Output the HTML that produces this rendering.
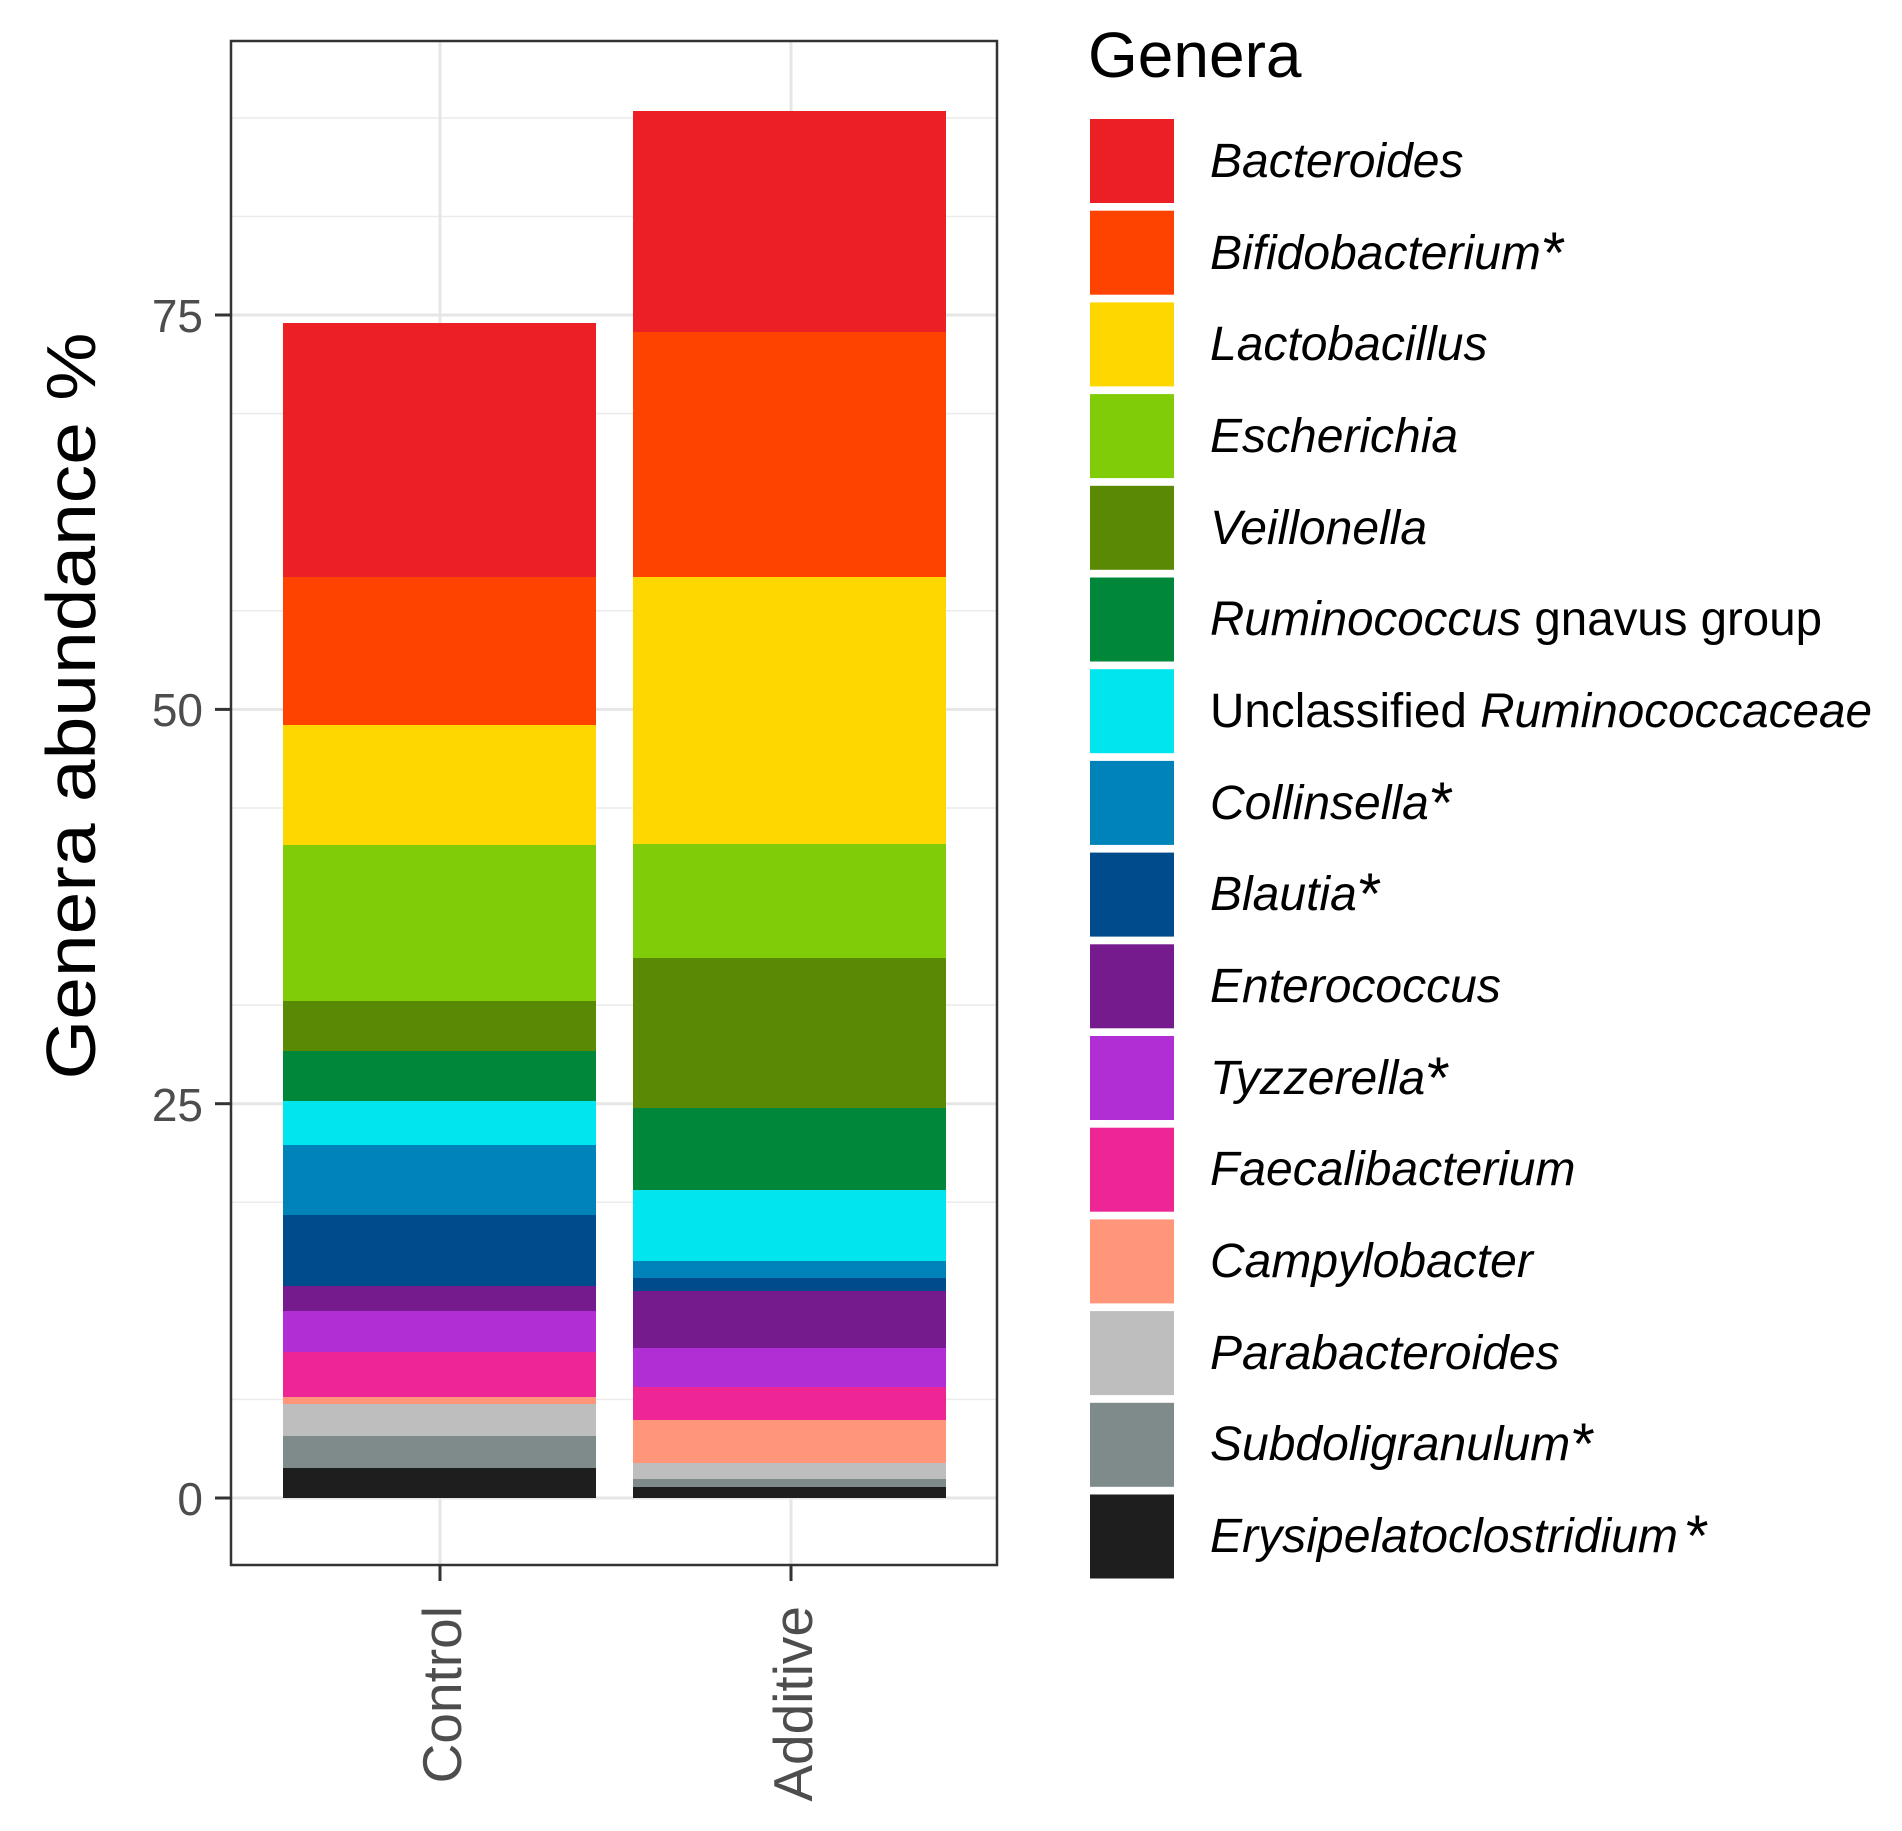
<!DOCTYPE html>
<html><head><meta charset="utf-8"><style>html,body{margin:0;padding:0;background:#fff}svg{display:block}</style></head>
<body>
<svg width="1902" height="1831" viewBox="0 0 1902 1831" xmlns="http://www.w3.org/2000/svg" font-family="Liberation Sans, Arial, sans-serif">
<rect width="1902" height="1831" fill="#fff"/>
<g stroke="#ebebeb" stroke-width="1.5">
<line x1="231" x2="997" y1="1399.4" y2="1399.4"/><line x1="231" x2="997" y1="1202.3" y2="1202.3"/><line x1="231" x2="997" y1="1005.1" y2="1005.1"/><line x1="231" x2="997" y1="808" y2="808"/><line x1="231" x2="997" y1="610.8" y2="610.8"/><line x1="231" x2="997" y1="413.6" y2="413.6"/><line x1="231" x2="997" y1="216.5" y2="216.5"/><line x1="231" x2="997" y1="118" y2="118"/>
</g>
<g stroke="#e6e6e6" stroke-width="3">
<line x1="231" x2="997" y1="1498" y2="1498"/><line x1="231" x2="997" y1="1103.7" y2="1103.7"/><line x1="231" x2="997" y1="709.4" y2="709.4"/><line x1="231" x2="997" y1="315" y2="315"/>
<line x1="440" x2="440" y1="41" y2="1565"/><line x1="791" x2="791" y1="41" y2="1565"/>
</g>
<g>
<rect x="283" y="323" width="313" height="254" fill="#EC2024"/>
<rect x="283" y="577" width="313" height="148" fill="#FE4200"/>
<rect x="283" y="725" width="313" height="120" fill="#FFD700"/>
<rect x="283" y="845" width="313" height="156" fill="#80CC08"/>
<rect x="283" y="1001" width="313" height="50" fill="#5A8A04"/>
<rect x="283" y="1051" width="313" height="50" fill="#00873A"/>
<rect x="283" y="1101" width="313" height="44" fill="#00E5EE"/>
<rect x="283" y="1145" width="313" height="70" fill="#0083B8"/>
<rect x="283" y="1215" width="313" height="71" fill="#004B8B"/>
<rect x="283" y="1286" width="313" height="25" fill="#751B8D"/>
<rect x="283" y="1311" width="313" height="41" fill="#B02ED4"/>
<rect x="283" y="1352" width="313" height="45" fill="#EE2595"/>
<rect x="283" y="1397" width="313" height="7" fill="#FF967A"/>
<rect x="283" y="1404" width="313" height="32" fill="#BEBEBE"/>
<rect x="283" y="1436" width="313" height="32" fill="#7F8A8A"/>
<rect x="283" y="1468" width="313" height="30" fill="#1E1E1E"/>
</g>
<g>
<rect x="633" y="111" width="313" height="221" fill="#EC2024"/>
<rect x="633" y="332" width="313" height="245" fill="#FE4200"/>
<rect x="633" y="577" width="313" height="267" fill="#FFD700"/>
<rect x="633" y="844" width="313" height="114" fill="#80CC08"/>
<rect x="633" y="958" width="313" height="150" fill="#5A8A04"/>
<rect x="633" y="1108" width="313" height="82" fill="#00873A"/>
<rect x="633" y="1190" width="313" height="71" fill="#00E5EE"/>
<rect x="633" y="1261" width="313" height="17" fill="#0083B8"/>
<rect x="633" y="1278" width="313" height="13" fill="#004B8B"/>
<rect x="633" y="1291" width="313" height="57" fill="#751B8D"/>
<rect x="633" y="1348" width="313" height="39" fill="#B02ED4"/>
<rect x="633" y="1387" width="313" height="33" fill="#EE2595"/>
<rect x="633" y="1420" width="313" height="43" fill="#FF967A"/>
<rect x="633" y="1463" width="313" height="16" fill="#BEBEBE"/>
<rect x="633" y="1479" width="313" height="8" fill="#7F8A8A"/>
<rect x="633" y="1487" width="313" height="11" fill="#1E1E1E"/>
</g>
<rect x="231" y="41" width="766" height="1524" fill="none" stroke="#333" stroke-width="2.5"/>
<g stroke="#333" stroke-width="3">
<line x1="215" x2="231" y1="1498" y2="1498"/><line x1="215" x2="231" y1="1103.7" y2="1103.7"/><line x1="215" x2="231" y1="709.4" y2="709.4"/><line x1="215" x2="231" y1="315" y2="315"/>
<line x1="440" x2="440" y1="1565" y2="1581"/><line x1="791" x2="791" y1="1565" y2="1581"/>
</g>
<g fill="#4d4d4d" font-size="46" text-anchor="end">
<text x="203" y="1515">0</text><text x="203" y="1121">25</text><text x="203" y="726">50</text><text x="203" y="332">75</text>
</g>
<g fill="#4d4d4d" font-size="55" text-anchor="end">
<text transform="translate(461,1606) rotate(-90)">Control</text>
<text transform="translate(812,1606) rotate(-90)">Additive</text>
</g>
<text transform="translate(95,706) rotate(-90)" font-size="70" text-anchor="middle" fill="#000" textLength="747" lengthAdjust="spacingAndGlyphs">Genera abundance %</text>
<text x="1088" y="77" font-size="64" fill="#000">Genera</text>
<g>
<rect x="1090" y="119" width="84" height="84" fill="#EC2024"/>
<rect x="1090" y="210.7" width="84" height="84" fill="#FE4200"/>
<rect x="1090" y="302.4" width="84" height="84" fill="#FFD700"/>
<rect x="1090" y="394.1" width="84" height="84" fill="#80CC08"/>
<rect x="1090" y="485.8" width="84" height="84" fill="#5A8A04"/>
<rect x="1090" y="577.5" width="84" height="84" fill="#00873A"/>
<rect x="1090" y="669.2" width="84" height="84" fill="#00E5EE"/>
<rect x="1090" y="760.9" width="84" height="84" fill="#0083B8"/>
<rect x="1090" y="852.6" width="84" height="84" fill="#004B8B"/>
<rect x="1090" y="944.3" width="84" height="84" fill="#751B8D"/>
<rect x="1090" y="1036" width="84" height="84" fill="#B02ED4"/>
<rect x="1090" y="1127.7" width="84" height="84" fill="#EE2595"/>
<rect x="1090" y="1219.4" width="84" height="84" fill="#FF967A"/>
<rect x="1090" y="1311.1" width="84" height="84" fill="#BEBEBE"/>
<rect x="1090" y="1402.8" width="84" height="84" fill="#7F8A8A"/>
<rect x="1090" y="1494.5" width="84" height="84" fill="#1E1E1E"/>
</g>
<g font-size="48" fill="#000">
<text x="1210" y="177" font-style="italic">Bacteroides</text>
<text x="1210" y="269"><tspan font-style="italic">Bifidobacterium</tspan><tspan font-size="58" dx="2" dy="4">*</tspan></text>
<text x="1210" y="360" font-style="italic">Lactobacillus</text>
<text x="1210" y="452" font-style="italic">Escherichia</text>
<text x="1210" y="544" font-style="italic">Veillonella</text>
<text x="1210" y="635" textLength="612" lengthAdjust="spacingAndGlyphs"><tspan font-style="italic">Ruminococcus</tspan> gnavus group</text>
<text x="1210" y="727" textLength="662" lengthAdjust="spacingAndGlyphs">Unclassified <tspan font-style="italic">Ruminococcaceae</tspan></text>
<text x="1210" y="819"><tspan font-style="italic">Collinsella</tspan><tspan font-size="58" dx="2" dy="4">*</tspan></text>
<text x="1210" y="910"><tspan font-style="italic">Blautia</tspan><tspan font-size="58" dx="2" dy="4">*</tspan></text>
<text x="1210" y="1002" font-style="italic">Enterococcus</text>
<text x="1210" y="1094"><tspan font-style="italic">Tyzzerella</tspan><tspan font-size="58" dx="2" dy="4">*</tspan></text>
<text x="1210" y="1185" font-style="italic">Faecalibacterium</text>
<text x="1210" y="1277" font-style="italic">Campylobacter</text>
<text x="1210" y="1369" font-style="italic">Parabacteroides</text>
<text x="1210" y="1460"><tspan font-style="italic">Subdoligranulum</tspan><tspan font-size="58" dx="2" dy="4">*</tspan></text>
<text x="1210" y="1552"><tspan font-style="italic" textLength="468" lengthAdjust="spacingAndGlyphs">Erysipelatoclostridium</tspan><tspan font-size="58" dx="8" dy="4">*</tspan></text>
</g>
</svg>
</body></html>
